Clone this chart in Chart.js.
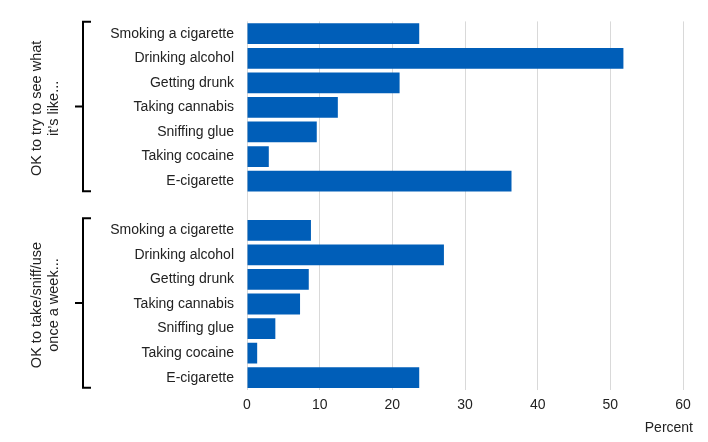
<!DOCTYPE html>
<html>
<head>
<meta charset="utf-8">
<script src="https://cdn.jsdelivr.net/npm/chart.js@4"></script>
<style>
  html, body { margin: 0; padding: 0; background: #fff; }
  #wrap { width: 708px; height: 442px; }
</style>
</head>
<body>
<div id="wrap"><canvas id="chart"></canvas></div>
<script>
// data
const behaviours = ['Smoking a cigarette', 'Drinking alcohol', 'Getting drunk', 'Taking cannabis', 'Sniffing glue', 'Taking cocaine', 'E-cigarette'];
const tryValues = [23.7, 51.8, 21.0, 12.5, 9.6, 3.0, 36.4];
const weeklyValues = [8.8, 27.1, 8.5, 7.3, 3.9, 1.4, 23.7];
const groupLabels = [['OK to try to see what', 'it\u2019s like...'], ['OK to take/sniff/use', 'once a week...']];
const xMin = 0, xMax = 60, xStep = 10;
const axisTitle = 'Percent';

const blue = '#005EB8';
const textColor = '#222';
const fontFamily = "'Liberation Sans', Arial, sans-serif";

// one blank row between the two groups
const labels = [...behaviours, '', ...behaviours];
const values = [...tryValues, null, ...weeklyValues];

const bracketPlugin = {
  id: 'brackets',
  afterDraw(chart) {
    const ctx = chart.ctx;
    const y = chart.scales.y;
    const groups = [[0, behaviours.length - 1], [behaviours.length + 1, labels.length - 1]];
    ctx.save();
    ctx.strokeStyle = '#000';
    ctx.lineWidth = 2;
    groups.forEach(([a, b], i) => {
      const top = y.getPixelForValue(a) - 12;
      const bottom = y.getPixelForValue(b) + 10;
      const mid = (top + bottom) / 2;
      const x = 83;
      ctx.beginPath();
      ctx.moveTo(91, top);
      ctx.lineTo(x, top);
      ctx.lineTo(x, bottom);
      ctx.lineTo(91, bottom);
      ctx.moveTo(75, mid);
      ctx.lineTo(x, mid);
      ctx.stroke();

      ctx.save();
      ctx.translate(45, mid + 2);
      ctx.rotate(-Math.PI / 2);
      ctx.fillStyle = textColor;
      ctx.font = '14.5px ' + fontFamily;
      ctx.textAlign = 'center';
      ctx.textBaseline = 'middle';
      groupLabels[i].forEach((line, k) => {
        ctx.fillText(line, 0, (k - 0.5) * 17);
      });
      ctx.restore();
    });
    // axis title, right aligned past the plot
    ctx.fillStyle = textColor;
    ctx.font = '14px ' + fontFamily;
    ctx.textAlign = 'right';
    ctx.textBaseline = 'middle';
    ctx.fillText(axisTitle, 693, 428);
    ctx.restore();
  }
};

new Chart(document.getElementById('chart'), {
  type: 'bar',
  data: {
    labels: labels,
    datasets: [{
      data: values,
      backgroundColor: blue,
      borderWidth: 0,
      categoryPercentage: 1,
      barPercentage: 0.845
    }]
  },
  options: {
    indexAxis: 'y',
    responsive: true,
    maintainAspectRatio: false,
    animation: false,
    devicePixelRatio: 1,
    layout: { padding: { top: 17, right: 25, left: 0, bottom: 0 } },
    plugins: {
      legend: { display: false },
      tooltip: { enabled: false }
    },
    scales: {
      x: {
        min: xMin,
        max: xMax,
        ticks: {
          stepSize: xStep,
          color: textColor,
          font: { size: 14, family: fontFamily },
          padding: 7
        },
        grid: { color: '#d9d9d9', drawTicks: false },
        border: { display: false },
        afterFit(scale) { scale.height = 52; }
      },
      y: {
        ticks: {
          color: textColor,
          font: { size: 14, family: fontFamily },
          padding: 13,
          autoSkip: false
        },
        grid: { display: false, drawTicks: false },
        border: { display: false },
        afterFit(scale) { scale.width = 247; }
      }
    }
  },
  plugins: [bracketPlugin]
});
</script>
</body>
</html>
